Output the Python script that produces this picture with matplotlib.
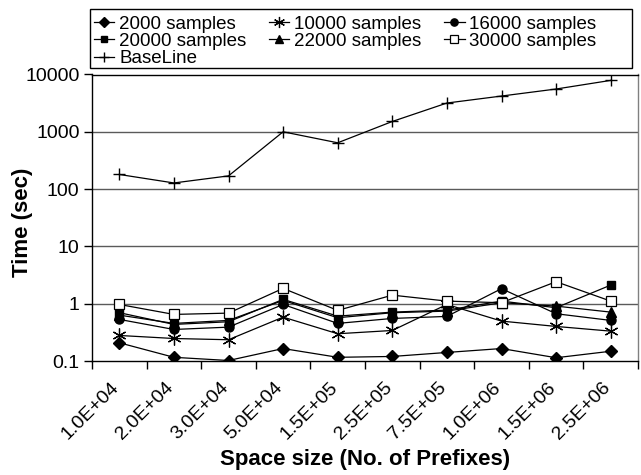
import matplotlib
matplotlib.use("Agg")
import matplotlib.pyplot as plt
from matplotlib.patches import Rectangle
from matplotlib.transforms import ScaledTranslation

plt.rcParams['font.family'] = ['Liberation Sans', 'DejaVu Sans']

categories = ["1.0E+04", "2.0E+04", "3.0E+04", "5.0E+04", "1.5E+05",
              "2.5E+05", "7.5E+05", "1.0E+06", "1.5E+06", "2.5E+06"]

s2000 = [0.208, 0.116, 0.102, 0.165, 0.116, 0.120, 0.141, 0.165, 0.114, 0.148]
s10000 = [0.279, 0.247, 0.235, 0.583, 0.299, 0.341, 0.97, 0.497, 0.401, 0.332]
s16000 = [0.532, 0.355, 0.390, 0.97, 0.453, 0.553, 0.600, 1.83, 0.668, 0.511]
s20000 = [0.697, 0.435, 0.484, 1.19, 0.607, 0.713, 0.773, 1.11, 0.851, 2.11]
s22000 = [0.632, 0.453, 0.511, 1.14, 0.569, 0.696, 0.742, 1.04, 0.908, 0.713]
s30000 = [0.97, 0.650, 0.685, 1.85, 0.764, 1.41, 1.11, 1.04, 2.42, 1.11]
baseline = [180, 128, 170, 1000, 643, 1514, 3177, 4208, 5580, 7890]

yticks = [0.1, 1, 10, 100, 1000, 10000]
ytick_labels = ["0.1", "1", "10", "100", "1000", "10000"]

W, H = 641, 475
fig = plt.figure(figsize=(W / 100, H / 100), dpi=100)
ax = fig.add_axes([92 / W, 1 - 361 / H, 546 / W, (361 - 74.5) / H])

x = list(range(len(categories)))
asterisk = (6, 2, 0)
series = [
    ("2000 samples", s2000, dict(marker='D', ms=6, mfc='black')),
    ("10000 samples", s10000, dict(marker=asterisk, ms=10, mfc='black', mew=0.9)),
    ("16000 samples", s16000, dict(marker='o', ms=6.5, mfc='black')),
    ("20000 samples", s20000, dict(marker='s', ms=6, mfc='black')),
    ("22000 samples", s22000, dict(marker='^', ms=6.5, mfc='black')),
    ("30000 samples", s30000, dict(marker='s', ms=6.5, mfc='white', mew=0.9)),
    ("BaseLine", baseline, dict(marker='+', ms=9, mfc='black', mew=1.0)),
]
handles = {}
for name, vals, st in series:
    h, = ax.plot(x, vals, color='black', lw=0.9, mec='black', label=name, **st)
    handles[name] = h

ax.set_yscale('log')
ax.set_ylim(0.1, 10000)
ax.set_xlim(-0.5, len(categories) - 0.5)
ax.set_yticks(yticks)
ax.set_yticklabels(ytick_labels, fontsize=14)
ax.yaxis.set_minor_locator(matplotlib.ticker.NullLocator())
ax.tick_params(axis='y', direction='out', length=6, width=1, pad=3)

ax.set_xticks(x)
ax.set_xticklabels(categories, rotation=45, ha='right', rotation_mode='anchor',
                   fontsize=14)
ax.tick_params(axis='x', which='major', length=0, pad=13)
shift = ScaledTranslation(-9 / 100, 0, fig.dpi_scale_trans)
for lbl in ax.get_xticklabels():
    lbl.set_transform(lbl.get_transform() + shift)
ax.set_xticks([i - 0.5 for i in range(len(categories) + 1)], minor=True)
ax.tick_params(axis='x', which='minor', direction='out', length=6, width=1)

for v in yticks[1:-1]:
    ax.axhline(v, color='#5a5a5a', lw=1.0, zorder=0)

for s in ['left', 'bottom', 'top']:
    ax.spines[s].set_color('black')
    ax.spines[s].set_linewidth(1.0)
ax.spines['right'].set_color('#808080')
ax.spines['right'].set_linewidth(1.0)

ax.set_ylabel("Time (sec)", fontsize=16, fontweight='bold')
ax.yaxis.set_label_coords((33 - 92) / 546, (361 - 222) / 286.5)
ax.set_xlabel("Space size (No. of Prefixes)", fontsize=16, fontweight='bold', labelpad=4)

order = ["2000 samples", "20000 samples", "BaseLine", "10000 samples",
         "22000 samples", "16000 samples", "30000 samples"]
leg = fig.legend([handles[n] for n in order], order, ncol=3, frameon=False,
                 loc='upper left', bbox_to_anchor=(90 / W, 1 - 12 / H),
                 fontsize=13.5, handlelength=1.1, handletextpad=0.25,
                 columnspacing=1.2, labelspacing=0.0, borderpad=0.2,
                 borderaxespad=0, markerscale=0.8)
fig.add_artist(Rectangle((90 / W, 1 - 68 / H), (632 - 90) / W, (68 - 9) / H,
                         transform=fig.transFigure, fill=False,
                         edgecolor='black', lw=1.0))

fig.savefig("out.png", dpi=100)
